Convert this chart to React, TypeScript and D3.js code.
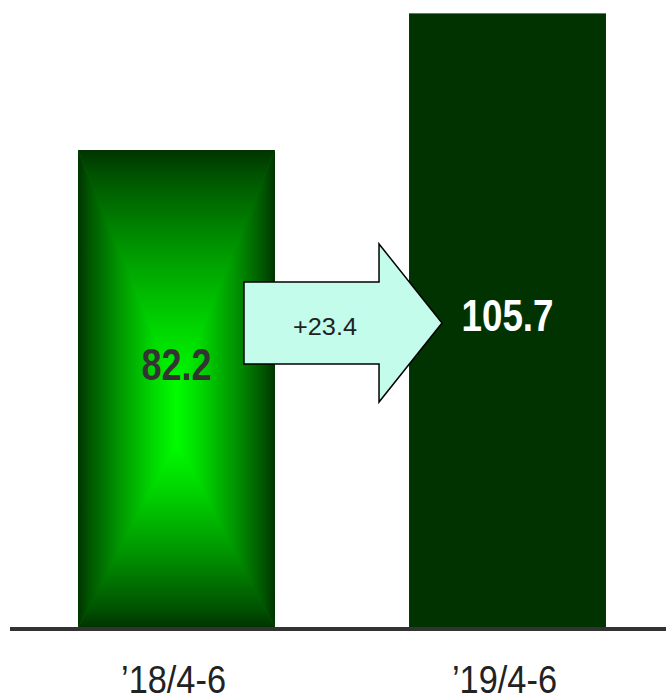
import React, { useEffect, useRef } from "react";
import * as d3 from "d3";

// data
const categories = ["’18/4-6", "’19/4-6"];
const values = [82.2, 105.7];
const valueLabels = ["82.2", "105.7"];
const deltaLabel = "+23.4";

const W = 666;
const H = 700;
const FONT = "'Liberation Sans', Arial, sans-serif";

export default function App() {
  const ref = useRef<SVGSVGElement | null>(null);

  useEffect(() => {
    const svg = d3.select(ref.current);
    svg.selectAll("*").remove();

    const x = d3.scaleBand<string>().domain(categories).range([12, 672]).paddingInner(0.405).paddingOuter(0.1995);
    const y = d3.scaleLinear().domain([0, 108]).range([628, 0]);
    const bw = x.bandwidth();

    const defs = svg.append("defs");
    // box gradient pieces for first bar
    const stops = [
      [0, "#003300"],
      [0.1, "#005200"],
      [0.4, "#009400"],
      [0.75, "#00d800"],
      [1, "#00ff00"],
    ];
    const mkGrad = (id: string, x1: number, y1: number, x2: number, y2: number) => {
      const g = defs.append("linearGradient").attr("id", id)
        .attr("x1", x1).attr("y1", y1).attr("x2", x2).attr("y2", y2);
      stops.forEach(s => g.append("stop").attr("offset", s[0]).attr("stop-color", s[1] as string));
    };
    mkGrad("gTop", 0, 0, 0, 1);
    mkGrad("gBot", 0, 1, 0, 0);
    mkGrad("gLeft", 0, 0, 1, 0);
    mkGrad("gRight", 1, 0, 0, 0);

    // bar 1: rectangular gradient made of four pieces meeting on a short centre segment
    const b1x0 = x(categories[0])!;
    const b1x1 = b1x0 + bw;
    const b1y0 = y(values[0]);
    const b1y1 = y(0);
    const cx = (b1x0 + b1x1) / 2;
    const cyTop = 392;
    const cyBot = 440;
    const g1 = svg.append("g");
    g1.append("rect").attr("x", b1x0).attr("y", b1y0).attr("width", bw).attr("height", b1y1 - b1y0).attr("fill", "#008a00");
    const poly = (pts: number[][], fill: string) =>
      g1.append("path").attr("d", "M" + pts.map(p => p.join(",")).join("L") + "Z").attr("fill", fill);
    poly([[b1x0, b1y0], [b1x1, b1y0], [cx, cyTop]], "url(#gTop)");
    poly([[b1x0, b1y1], [b1x1, b1y1], [cx, cyBot]], "url(#gBot)");
    poly([[b1x0, b1y0], [cx + 1, cyTop - 2], [cx + 1, cyBot + 2], [b1x0, b1y1]], "url(#gLeft)");
    poly([[b1x1, b1y0], [cx - 1, cyTop - 2], [cx - 1, cyBot + 2], [b1x1, b1y1]], "url(#gRight)");

    // bar 2
    svg.append("rect")
      .attr("x", x(categories[1])!)
      .attr("y", y(values[1]))
      .attr("width", bw)
      .attr("height", y(0) - y(values[1]))
      .attr("fill", "#003300");

    // baseline
    svg.append("line")
      .attr("x1", 10).attr("x2", 666)
      .attr("y1", y(0) + 1).attr("y2", y(0) + 1)
      .attr("stroke", "#333333").attr("stroke-width", 4);

    // arrow
    const ax0 = b1x1 - 31;
    const atip = x(categories[1])! + 33;
    const ahead = atip - 63;
    const ay = 323;
    const bodyH = 41;
    const headH = 79;
    const arrow = [
      [ax0, ay - bodyH], [ahead, ay - bodyH], [ahead, ay - headH], [atip, ay],
      [ahead, ay + headH], [ahead, ay + bodyH], [ax0, ay + bodyH],
    ];
    svg.append("path")
      .attr("d", "M" + arrow.map(p => p.join(",")).join("L") + "Z")
      .attr("fill", "#c4fcec")
      .attr("stroke", "#000")
      .attr("stroke-width", 1.5)
      .attr("stroke-linejoin", "miter");

    svg.append("text")
      .attr("x", 325).attr("y", 335)
      .attr("text-anchor", "middle")
      .attr("font-family", FONT).attr("font-size", 24)
      .attr("fill", "#222")
      .attr("textLength", 64).attr("lengthAdjust", "spacingAndGlyphs")
      .text(deltaLabel);

    // value labels
    svg.append("text")
      .attr("x", cx).attr("y", 380)
      .attr("text-anchor", "middle")
      .attr("font-family", FONT).attr("font-size", 44).attr("font-weight", "bold")
      .attr("fill", "#333333")
      .attr("textLength", 70).attr("lengthAdjust", "spacingAndGlyphs")
      .text(valueLabels[0]);
    svg.append("text")
      .attr("x", x(categories[1])! + bw / 2).attr("y", 331)
      .attr("text-anchor", "middle")
      .attr("font-family", FONT).attr("font-size", 44).attr("font-weight", "bold")
      .attr("fill", "#ffffff")
      .attr("textLength", 92).attr("lengthAdjust", "spacingAndGlyphs")
      .text(valueLabels[1]);

    // category labels
    categories.forEach(c => {
      svg.append("text")
        .attr("x", x(c)! + bw / 2 - 3).attr("y", 693)
        .attr("text-anchor", "middle")
        .attr("font-family", FONT).attr("font-size", 38)
        .attr("fill", "#222")
        .attr("textLength", 105).attr("lengthAdjust", "spacingAndGlyphs")
        .text(c);
    });
  }, []);

  return (
    <svg ref={ref} width={W} height={H}
      style={{ position: "absolute", left: 0, top: 0, background: "#fff" }} />
  );
}
